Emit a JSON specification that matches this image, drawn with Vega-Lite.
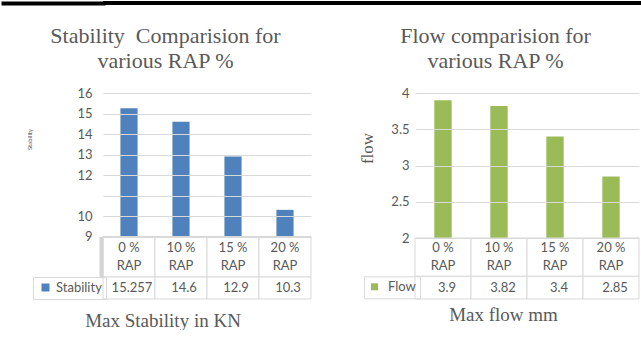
{
  "$schema": "https://vega.github.io/schema/vega-lite/v6.json",
  "padding": 0,
  "background": "white",
  "datasets": {
    "stability": [
      {"rap": "0 %\nRAP", "series": "Stability", "value": 15.257},
      {"rap": "10 %\nRAP", "series": "Stability", "value": 14.6},
      {"rap": "15 %\nRAP", "series": "Stability", "value": 12.9},
      {"rap": "20 %\nRAP", "series": "Stability", "value": 10.3}
    ],
    "flow": [
      {"rap": "0 %\nRAP", "series": "Flow", "value": 3.9},
      {"rap": "10 %\nRAP", "series": "Flow", "value": 3.82},
      {"rap": "15 %\nRAP", "series": "Flow", "value": 3.4},
      {"rap": "20 %\nRAP", "series": "Flow", "value": 2.85}
    ],
    "strip": [{"band": "top"}]
  },
  "config": {
    "view": {"stroke": null},
    "font": "Lato",
    "axis": {
      "labelFont": "Lato",
      "labelFontSize": 13,
      "labelColor": "#595959",
      "ticks": false,
      "domain": false,
      "gridColor": "#d9d9d9",
      "titleFontWeight": "normal",
      "titleColor": "#595959"
    },
    "title": {
      "font": "Liberation Serif",
      "fontSize": 22,
      "fontWeight": "normal",
      "color": "#595959",
      "lineHeight": 25,
      "anchor": "middle",
      "frame": "group"
    },
    "legend": {
      "title": null,
      "symbolType": "square",
      "symbolStrokeWidth": 0,
      "labelFont": "Lato",
      "labelFontSize": 13,
      "labelColor": "#595959",
      "strokeColor": "#d9d9d9",
      "padding": 4
    }
  },
  "spacing": 19,
  "vconcat": [
    {
      "data": {"name": "strip"},
      "width": 539,
      "height": 4,
      "mark": {"type": "rect", "color": "black"},
      "encoding": {
        "y": {
          "datum": 0,
          "type": "quantitative",
          "scale": {"domain": [0, 1], "nice": false},
          "axis": {"values": [0.5], "labels": false, "domain": false, "grid": false, "title": null, "ticks": true, "tickSize": 100, "tickWidth": 4, "tickCap": "square", "tickColor": "black"}
        },
        "y2": {"datum": 1}
      }
    },
    {
      "spacing": 46,
      "resolve": {"scale": {"color": "independent"}, "legend": {"color": "independent"}},
      "hconcat": [
        {
          "data": {"name": "stability"},
          "width": 208,
          "height": 206,
          "title": {"text": ["Stability\u00a0 Comparision for", "various RAP %"], "dx": -41.5, "offset": 14},
          "encoding": {
            "x": {
              "field": "rap",
              "type": "nominal",
              "sort": null,
              "scale": {"paddingInner": 0, "paddingOuter": 0},
              "axis": {"labels": false, "grid": false, "title": "Max Stability in KN", "titleFont": "Liberation Serif", "titleFontSize": 19, "titlePadding": 12, "titleX": 59.5}
            }
          },
          "layer": [
            {
              "mark": {"type": "bar", "width": {"band": 0.33}},
              "encoding": {
                "y": {
                  "field": "value",
                  "type": "quantitative",
                  "scale": {"domain": [9, 16], "range": [143.5, 0], "zero": false, "nice": false},
                  "axis": {
                    "values": [9, 10, 11, 12, 13, 14, 15, 16],
                    "labelExpr": "datum.value == 11 ? '' : datum.label",
                    "labelPadding": 11,
                    "grid": true,
                    "zindex": 1,
                    "title": "Stability",
                    "titleFont": "Lato",
                    "titleFontSize": 6,
                    "titleX": -71,
                    "titleY": 46
                  }
                },
                "y2": {"datum": 9},
                "color": {
                  "field": "series",
                  "type": "nominal",
                  "scale": {"range": ["#4f81bd"]},
                  "legend": {"orient": "none", "legendX": -70, "legendY": 184, "symbolSize": 64, "labelOffset": 4, "symbolOffset": 2}
                }
              }
            },
            {
              "encoding": {
                "y": {
                  "datum": "hdr",
                  "type": "nominal",
                  "scale": {"range": [143.5, 184], "paddingInner": 0, "paddingOuter": 0},
                  "axis": {"orient": "left", "labels": false, "grid": false, "title": null, "domain": true, "domainWidth": 4, "domainColor": "#d4d4d4", "offset": 2}
                }
              },
              "layer": [
                {"mark": {"type": "rect", "fill": "white", "stroke": "#d9d9d9", "strokeWidth": 1}},
                {
                  "mark": {"type": "text", "lineBreak": "\n", "lineHeight": 18, "fontSize": 13, "color": "#595959", "baseline": "middle", "font": "Lato", "dy": -9},
                  "encoding": {"text": {"field": "rap"}}
                }
              ]
            },
            {
              "encoding": {
                "y": {"datum": "val", "type": "nominal", "scale": {"range": [184, 206], "paddingInner": 0, "paddingOuter": 0}, "axis": null}
              },
              "layer": [
                {"mark": {"type": "rect", "fill": "white", "stroke": "#d9d9d9", "strokeWidth": 1}},
                {
                  "mark": {"type": "text", "fontSize": 13, "color": "#595959", "baseline": "middle", "font": "Lato", "dx": 3},
                  "encoding": {"text": {"field": "value"}}
                }
              ]
            }
          ],
          "resolve": {"scale": {"y": "independent"}}
        },
        {
          "data": {"name": "flow"},
          "width": 224,
          "height": 206,
          "title": {"text": ["Flow comparision for", "various RAP %"], "dx": -31.5, "offset": 14},
          "encoding": {
            "x": {
              "field": "rap",
              "type": "nominal",
              "sort": null,
              "scale": {"paddingInner": 0, "paddingOuter": 0},
              "axis": {"labels": false, "grid": false, "title": "Max flow mm", "titleFont": "Liberation Serif", "titleFontSize": 19, "titlePadding": 6, "titleX": 88}
            }
          },
          "layer": [
            {
              "mark": {"type": "bar", "width": {"band": 0.31}},
              "encoding": {
                "y": {
                  "field": "value",
                  "type": "quantitative",
                  "scale": {"domain": [2, 4], "range": [145, 0], "zero": false, "nice": false},
                  "axis": {
                    "values": [2, 2.5, 3, 3.5, 4],
                    "format": "~g",
                    "labelPadding": 6,
                    "grid": true,
                    "zindex": 1,
                    "title": "flow",
                    "titleFont": "Liberation Serif",
                    "titleFontSize": 17,
                    "titlePadding": 14,
                    "titleY": 55
                  }
                },
                "y2": {"datum": 2},
                "color": {
                  "field": "series",
                  "type": "nominal",
                  "scale": {"range": ["#9bbb59"]},
                  "legend": {"orient": "none", "legendX": -51, "legendY": 183.3, "symbolSize": 49, "labelOffset": 7}
                }
              }
            },
            {
              "encoding": {
                "y": {"datum": "hdr", "type": "nominal", "scale": {"range": [145, 183.3], "paddingInner": 0, "paddingOuter": 0}, "axis": null}
              },
              "layer": [
                {"mark": {"type": "rect", "fill": "white", "stroke": "#d9d9d9", "strokeWidth": 1}},
                {
                  "mark": {"type": "text", "lineBreak": "\n", "lineHeight": 18, "fontSize": 13, "color": "#595959", "baseline": "middle", "font": "Lato", "dy": -9},
                  "encoding": {"text": {"field": "rap"}}
                }
              ]
            },
            {
              "encoding": {
                "y": {"datum": "val", "type": "nominal", "scale": {"range": [183.3, 206], "paddingInner": 0, "paddingOuter": 0}, "axis": null}
              },
              "layer": [
                {"mark": {"type": "rect", "fill": "white", "stroke": "#d9d9d9", "strokeWidth": 1}},
                {
                  "mark": {"type": "text", "fontSize": 13, "color": "#595959", "baseline": "middle", "font": "Lato", "dx": 4},
                  "encoding": {"text": {"field": "value"}}
                }
              ]
            }
          ],
          "resolve": {"scale": {"y": "independent"}}
        }
      ]
    }
  ]
}
